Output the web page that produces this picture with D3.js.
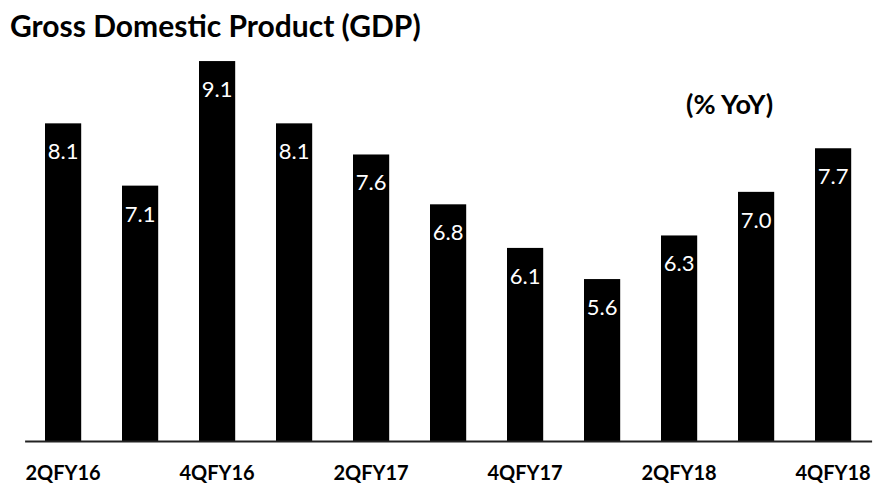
<!DOCTYPE html>
<html>
<head>
<meta charset="utf-8">
<script src="https://cdn.jsdelivr.net/npm/d3@7"></script>
<style>
  body { margin: 0; background: #fff; }
  svg text { font-family: Lato, "Open Sans", sans-serif; }
</style>
</head>
<body>
<div id="chart"></div>
<script>
// Dimensions of the chart.
var width = 874;
var height = 485;

// Quarters and GDP growth (% YoY).
var quarters = ["2QFY16", "3QFY16", "4QFY16", "1QFY17", "2QFY17", "3QFY17",
                "4QFY17", "1QFY18", "2QFY18", "3QFY18", "4QFY18"];
var gdp = [8.1, 7.1, 9.1, 8.1, 7.6, 6.8, 6.1, 5.6, 6.3, 7.0, 7.7];
var tickLabels = ["2QFY16", "4QFY16", "2QFY17", "4QFY17", "2QFY18", "4QFY18"];

var svg = d3.select("#chart").append("svg")
    .attr("width", width)
    .attr("height", height);

var x = d3.scaleBand()
    .domain(quarters)
    .range([24.6, 871.6])
    .paddingInner(0.53)
    .paddingOuter(0.265);

// Axis does not start at zero in the original.
var y = d3.scaleLinear()
    .domain([3, 10])
    .range([441, 5]);

// Title
svg.append("text")
    .attr("x", 10)
    .attr("y", 37)
    .attr("font-size", 30)
    .attr("font-weight", "bold")
    .text("Gross Domestic Product (GDP)");

svg.append("text")
    .attr("x", 686)
    .attr("y", 114)
    .attr("font-size", 27)
    .attr("font-weight", "bold")
    .text("(% YoY)");

// Bars
svg.selectAll("rect.bar")
    .data(gdp)
    .enter().append("rect")
    .attr("class", "bar")
    .attr("x", function(d, i) { return x(quarters[i]); })
    .attr("y", function(d) { return y(d); })
    .attr("width", x.bandwidth())
    .attr("height", function(d) { return y(3) - y(d); })
    .attr("fill", "#000");

// Value labels inside bars
svg.selectAll("text.val")
    .data(gdp)
    .enter().append("text")
    .attr("class", "val")
    .attr("x", function(d, i) { return x(quarters[i]) + x.bandwidth() / 2; })
    .attr("y", function(d) { return y(d) + 36; })
    .attr("text-anchor", "middle")
    .attr("font-size", 22)
    .attr("fill", "#fff")
    .text(function(d) { return d.toFixed(1); });

// Axis (domain line is the baseline)
var axis = svg.append("g")
    .attr("transform", "translate(0," + y(3) + ")")
    .call(d3.axisBottom(x).tickValues(tickLabels).tickSize(0).tickPadding(25));

axis.select(".domain")
    .attr("stroke", "#222")
    .attr("stroke-width", 2);

axis.selectAll("text")
    .attr("font-family", "Lato, sans-serif")
    .attr("font-size", 20)
    .attr("font-weight", "bold")
    .attr("fill", "#000");
</script>
</body>
</html>
